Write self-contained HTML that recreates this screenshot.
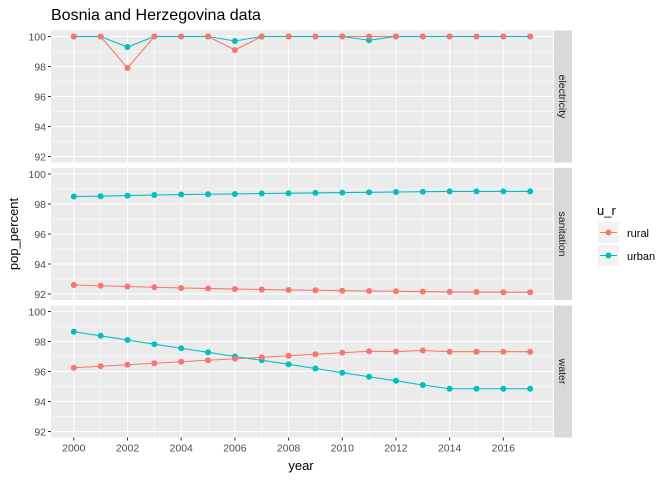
<!DOCTYPE html>
<html><head><meta charset="utf-8"><style>
body{margin:0;background:#fff}
text{font-family:"Liberation Sans",sans-serif}
</style></head><body>
<svg id="chart" width="672" height="480" xmlns="http://www.w3.org/2000/svg">
<text x="51" y="20" font-size="16" fill="#000">Bosnia and Herzegovina data</text>
<text transform="translate(18,234) rotate(-90)" text-anchor="middle" font-size="13" fill="#000">pop_percent</text>
<text x="301" y="470" text-anchor="middle" font-size="13" fill="#000">year</text>
<g id="panels"></g>
<g>
<text x="597" y="215" font-size="13">u_r</text>
<rect x="598" y="222" width="21" height="21" fill="#f2f2f2"/>
<line x1="600" y1="232.5" x2="617" y2="232.5" stroke="#F8766D" stroke-width="1"/>
<circle cx="608.5" cy="232.5" r="3" fill="#F8766D"/>
<text x="627" y="237" font-size="11">rural</text>
<rect x="598" y="245" width="21" height="21" fill="#f2f2f2"/>
<line x1="600" y1="255.5" x2="617" y2="255.5" stroke="#00BFC4" stroke-width="1"/>
<circle cx="608.5" cy="255.5" r="3" fill="#00BFC4"/>
<text x="627" y="260" font-size="11">urban</text>
</g>
</svg>
<script>
const years=[2000,2001,2002,2003,2004,2005,2006,2007,2008,2009,2010,2011,2012,2013,2014,2015,2016,2017];
const facets=["electricity","sanitation","water"];
const elecRural=[100,100,97.9,100,100,100,99.1,100,100,100,100,100,100,100,100,100,100,100];
const elecUrban=[100,100,99.3,100,100,100,99.7,100,100,100,100,99.75,100,100,100,100,100,100];
const sanRural=[92.6,92.55,92.5,92.45,92.4,92.37,92.33,92.3,92.27,92.25,92.22,92.2,92.18,92.16,92.14,92.13,92.12,92.12];
const sanUrban=[98.5,98.52,98.56,98.6,98.63,98.65,98.67,98.7,98.72,98.74,98.76,98.78,98.8,98.82,98.84,98.84,98.84,98.84];
const watRural=[96.25,96.35,96.45,96.55,96.65,96.75,96.85,96.95,97.05,97.15,97.25,97.35,97.33,97.4,97.32,97.32,97.32,97.32];
const watUrban=[98.65,98.38,98.1,97.82,97.55,97.28,97.0,96.75,96.48,96.2,95.92,95.65,95.38,95.1,94.85,94.85,94.85,94.85];
const yTicks=[92,94,96,98,100];
const xTicks=[2000,2002,2004,2006,2008,2010,2012,2014,2016];
const seriesByFacet=[[elecRural,elecUrban],[sanRural,sanUrban],[watRural,watUrban]];
const colors=["#F8766D","#00BFC4"];
const NS="http://www.w3.org/2000/svg";
const L=51,R=553,tops=[30.5,168,305.5],H=132;
const xMin=2000-0.85,xMax=2017+0.85,yMin=91.6,yMax=100.4;
const xs=v=>L+(v-xMin)/(xMax-xMin)*(R-L);
function mk(p,tag,a){const e=document.createElementNS(NS,tag);for(const k in a)e.setAttribute(k,a[k]);p.appendChild(e);return e;}
const g=document.getElementById("panels");
facets.forEach((f,i)=>{
 const T=tops[i],B=T+H;
 const ys=v=>B-(v-yMin)/(yMax-yMin)*H;
 const pg=mk(g,"g",{});
 
 
 mk(pg,"rect",{x:L,y:T,width:R-L,height:H,fill:"#ebebeb"});
 for(let y=93;y<100;y+=2)mk(pg,"line",{x1:L,x2:R,y1:ys(y),y2:ys(y),stroke:"#fff","stroke-width":0.5});
 for(let x=2001;x<=2017;x+=2)mk(pg,"line",{x1:xs(x),x2:xs(x),y1:T,y2:B,stroke:"#fff","stroke-width":0.5});
 yTicks.forEach(y=>{mk(pg,"line",{x1:L,x2:R,y1:ys(y),y2:ys(y),stroke:"#fff","stroke-width":1.1});
  mk(pg,"line",{x1:L-3,x2:L,y1:ys(y),y2:ys(y),stroke:"#333","stroke-width":1});
  const t=mk(pg,"text",{x:L-5,y:ys(y)+4,"text-anchor":"end","font-size":"10.5",fill:"#4d4d4d"});t.textContent=y;
  
  });
 xTicks.forEach(x=>mk(pg,"line",{x1:xs(x),x2:xs(x),y1:T,y2:B,stroke:"#fff","stroke-width":1.1}));
 mk(pg,"rect",{x:R+1,y:T,width:18,height:H,fill:"#d9d9d9"});
 const st=mk(pg,"text",{transform:`translate(${R+6},${T+H/2}) rotate(90)`,"text-anchor":"middle","font-size":"10.5",fill:"#1a1a1a"});st.textContent=f;
 
 
 seriesByFacet[i].forEach((s,j)=>{
  const pl=mk(pg,"polyline",{points:s.map((v,k)=>xs(years[k])+","+ys(v)).join(" "),fill:"none",stroke:colors[j],"stroke-width":1.1});
  
  
 });
 [1,0].forEach(j=>{
  seriesByFacet[i][j].forEach((v,k)=>{const c=mk(pg,"circle",{cx:xs(years[k]),cy:ys(v),r:3,fill:colors[j]});
   
   });
 });
 if(i===2){xTicks.forEach(x=>{mk(pg,"line",{x1:xs(x),x2:xs(x),y1:B,y2:B+3,stroke:"#333"});
  const t=mk(pg,"text",{x:xs(x),y:B+14,"text-anchor":"middle","font-size":"10.5",fill:"#4d4d4d"});t.textContent=x;
  
  });}
});
</script>
</body></html>
